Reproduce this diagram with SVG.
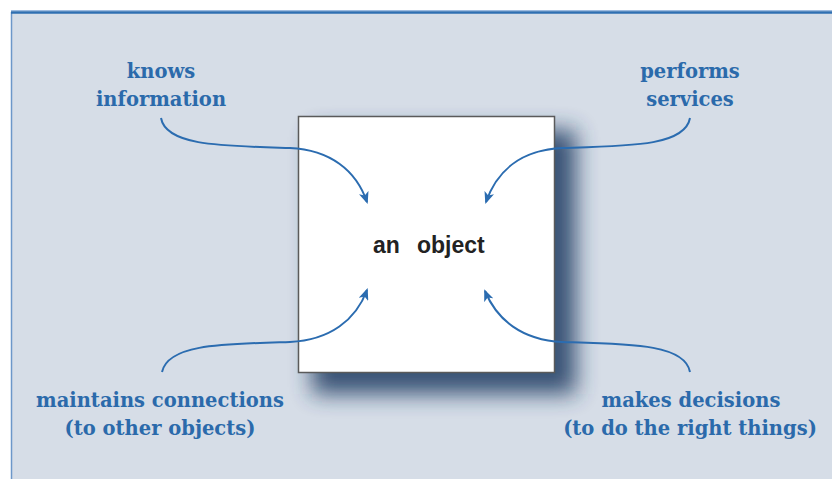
<svg xmlns="http://www.w3.org/2000/svg" width="832" height="479" viewBox="0 0 832 479">
  <style>
    .label { font-family: "DejaVu Serif", "Liberation Serif", serif; font-weight: bold; font-size: 19.5px; fill: #2b6aab; text-anchor: middle; }
    .title { font-family: "Liberation Sans", Arial, sans-serif; font-weight: bold; font-size: 23px; fill: #222222; }
    .conn { fill: none; stroke: #2b6cb0; stroke-width: 2; marker-end: url(#head); }
  </style>
  <defs>
    <marker id="head" viewBox="0 0 12 10" refX="10" refY="5" markerWidth="12" markerHeight="10" markerUnits="userSpaceOnUse" orient="auto">
      <path d="M0,0 L12,5 L0,10 L3,5 Z" fill="#2b6cb0"/>
    </marker>
    <filter id="shadow" x="-30%" y="-30%" width="160%" height="160%">
      <feGaussianBlur stdDeviation="11"/>
    </filter>
  </defs>

  <!-- page background and framed panel -->
  <rect x="0" y="0" width="832" height="479" fill="#ffffff"/>
  <rect x="11" y="11" width="821" height="468" fill="#d6dde7"/>
  <line x1="11.5" y1="12" x2="11.5" y2="479" stroke="#6d97c9" stroke-width="1.5"/>
  <line x1="11" y1="10.5" x2="832" y2="10.5" stroke="#9dbbe0" stroke-width="1"/>
  <line x1="11" y1="12.5" x2="832" y2="12.5" stroke="#2f6fb2" stroke-width="2.5"/>

  <!-- central object box with drop shadow -->
  <g id="object">
    <rect x="312" y="130" width="264" height="264" fill="#1d3a62" opacity="0.85" filter="url(#shadow)"/>
    <rect x="298.5" y="116.5" width="256" height="256" fill="#ffffff" stroke="#5a5a5a" stroke-width="1.5"/>
    <text class="title" y="253"><tspan x="373">an</tspan><tspan x="417">object</tspan></text>
  </g>

  <g id="knows-information">
    <text class="label" x="161" y="78">knows</text>
    <text class="label" x="161" y="106">information</text>
  </g>

  <g id="performs-services">
    <text class="label" x="690" y="78">performs</text>
    <text class="label" x="690" y="106">services</text>
  </g>

  <g id="maintains-connections">
    <text class="label" x="160" y="407">maintains connections</text>
    <text class="label" x="160" y="435">(to other objects)</text>
  </g>

  <g id="makes-decisions">
    <text class="label" x="691" y="407">makes decisions</text>
    <text class="label" x="690" y="435">(to do the right things)</text>
  </g>

  <!-- curved connectors pointing into the object -->
  <g id="connectors">
    <path class="conn" d="M161,118 C166,146 222,146 290,148 C330,150 356,170 367,202"/>
    <path class="conn" d="M690,118 C685,146 630,146 562,148 C522,150 497,170 486,202"/>
    <path class="conn" d="M162,372 C168,344 222,344 290,342 C330,340 356,320 367,290"/>
    <path class="conn" d="M690,372 C685,344 630,344 562,342 C522,340 497,320 485,291"/>
  </g>
</svg>
